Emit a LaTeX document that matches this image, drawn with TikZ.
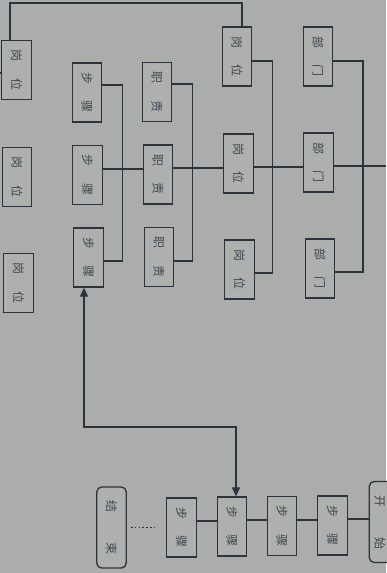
\documentclass[tikz,border=0pt]{standalone}
\usepackage{fontspec}
\usepackage{graphicx}
\newfontfamily\cjk{Noto Sans CJK SC}
\usetikzlibrary{calc,arrows.meta}
\definecolor{bg}{HTML}{AAADAC}
\definecolor{boxbg}{HTML}{ADB0AF}
\definecolor{ink}{HTML}{2E333A}
\definecolor{txt}{HTML}{41464C}
\newcommand{\vtext}[3][17pt]{\rotatebox{-90}{#2\hspace{#1}#3}}
\begin{document}
\begin{tikzpicture}[x=1pt,y=-1pt,
  box/.style={draw=ink, line width=1.3pt, fill=boxbg, minimum width=29.5pt,
    minimum height=59pt, inner sep=0pt, font=\cjk\fontsize{12}{12}\selectfont, text=txt},
  rbox/.style={box, rounded corners=5pt, minimum height=81pt},
  conn/.style={draw=ink, line width=1.2pt},
  biarrow/.style={conn, {Triangle[width=8pt,length=9pt]}-{Triangle[width=8pt,length=9pt]}}]
\useasboundingbox (0,0) rectangle (386,573);
\fill[bg] (0,0) rectangle (386,573);

% left column
\node[box] (L1) at (16.5,70) {\vtext{岗}{位}};
\node[box] (L2) at (17,177) {\vtext{岗}{位}};
\node[box] (L3) at (18.5,283) {\vtext{岗}{位}};
% steps column
\node[box] (S1) at (87,92.5) {\vtext{步}{骤}};
\node[box] (S2) at (87.5,175) {\vtext{步}{骤}};
\node[box] (S3) at (88.5,257.5) {\vtext{步}{骤}};
% duties column
\node[box] (Z1) at (157,92) {\vtext{职}{责}};
\node[box] (Z2) at (158,174.5) {\vtext{职}{责}};
\node[box] (Z3) at (159,257) {\vtext{职}{责}};
% posts column
\node[box] (G1) at (237,56.5) {\vtext{岗}{位}};
\node[box] (G2) at (238.5,163.5) {\vtext{岗}{位}};
\node[box] (G3) at (239.5,269.5) {\vtext{岗}{位}};
% departments column
\node[box] (B1) at (318,56.5) {\vtext{部}{门}};
\node[box] (B2) at (318.5,162.5) {\vtext{部}{门}};
\node[box] (B3) at (320,268.5) {\vtext{部}{门}};
% bottom row
\node[rbox] (start) at (384,522) {\hspace*{-8pt}\vtext[30pt]{开}{始}};
\node[box] (A) at (332.5,525.5) {\vtext{步}{骤}};
\node[box] (B) at (282,526) {\vtext{步}{骤}};
\node[box] (C) at (232,526.5) {\vtext{步}{骤}};
\node[box] (D) at (181.5,527.5) {\vtext{步}{骤}};
\node[rbox] (end) at (111.5,527.5) {\vtext[30pt]{结}{束}};

\coordinate (topc) at (100,3);
\coordinate (lstub) at (0,73);
\coordinate (redge) at (386,166);
\coordinate (midc) at (150,427);

% top frame line
\draw[conn] ($(L1.north)+(-6.5,0)$) |- (topc) -| ($(G1.north)+(5,0)$);
\draw[conn] (L1.west |- lstub) -- (lstub);
% department bus
\draw[conn] ($(B1.east)+(0,4.5)$) -- ++(29.5,0) |- ($(B3.east)+(0,3.5)$);
\draw[conn] ($(B2.east)+(0,3.5)$) -- (redge);
% posts to department
\draw[conn] ($(G2.east)+(0,3.5)$) coordinate (g2e) -- (g2e -| B2.west);
\draw[conn] ($(G1.east)+(0,4.5)$) -- ++(20,0) |- ($(G3.east)+(0,3.5)$);
% duties to post
\draw[conn] ($(Z2.east)+(0,-6.5)$) coordinate (z2e) -- (z2e -| G2.west);
\draw[conn] ($(Z1.east)+(0,-8)$) -- ++(20,0) |- ($(Z3.east)+(0,4)$);
% steps to duty
\draw[conn] ($(S2.east)+(0,-6)$) coordinate (s2e) -- (s2e -| Z2.west);
\draw[conn] ($(S1.east)+(0,-7.5)$) -- ++(20,0) |- ($(S3.east)+(0,3.5)$);
% double arrow
\draw[biarrow] ($(S3.south)+(-4.5,0)$) |- (midc) -| ($(C.north)+(4,0)$);
% bottom row
\draw[conn] ($(A.east)+(0,-6.5)$) coordinate (ae) -- (ae -| start.west);
\draw[conn] ($(B.east)+(0,-6)$) coordinate (be) -- (be -| A.west);
\draw[conn] ($(C.east)+(0,-6.5)$) coordinate (ce) -- (ce -| B.west);
\draw[conn] ($(D.east)+(0,-6.5)$) coordinate (de) -- (de -| C.west);
\draw[draw=ink, line width=1.5pt, dash pattern=on 1.6pt off 2.2pt] ($(end.east)+(4,0)$) -- ($(D.west)+(-10,0)$);
\end{tikzpicture}
\end{document}
